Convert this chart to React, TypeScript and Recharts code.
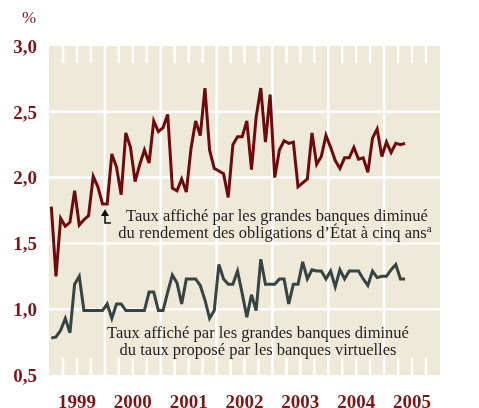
import {
  LineChart,
  Line,
  CartesianGrid,
  XAxis,
  YAxis,
  ReferenceLine,
  ReferenceArea,
} from "recharts";

// monthly values, Jan 1999 .. May 2005
const bigBanksMinusBonds = [
  1.78, 1.25, 1.69, 1.63, 1.66, 1.9, 1.64, 1.68, 1.71, 2.01, 1.93, 1.8,
  1.8, 2.18, 2.08, 1.87, 2.34, 2.23, 1.97, 2.1, 2.21, 2.11, 2.43, 2.35,
  2.38, 2.48, 1.92, 1.9, 1.99, 1.89, 2.22, 2.43, 2.32, 2.68, 2.21, 2.07,
  2.05, 2.03, 1.85, 2.25, 2.31, 2.31, 2.43, 2.06, 2.46, 2.68, 2.27, 2.63,
  2.0, 2.21, 2.28, 2.26, 2.27, 1.93, 1.96, 1.99, 2.34, 2.1, 2.16, 2.32,
  2.23, 2.13, 2.07, 2.15, 2.15, 2.23, 2.14, 2.15, 2.04, 2.3, 2.37, 2.16,
  2.27, 2.19, 2.26, 2.25, 2.26,
];

const bigBanksMinusVirtual = [
  0.78, 0.79, 0.84, 0.93, 0.82, 1.19, 1.25, 0.99, 0.99, 0.99, 0.99, 0.99,
  1.04, 0.93, 1.04, 1.04, 0.99, 0.99, 0.99, 0.99, 0.99, 1.13, 1.13, 0.99,
  0.99, 1.13, 1.26, 1.2, 1.04, 1.23, 1.23, 1.23, 1.18, 1.07, 0.93, 0.99,
  1.34, 1.23, 1.19, 1.19, 1.29, 1.12, 0.94, 1.11, 0.99, 1.38, 1.19, 1.19,
  1.19, 1.23, 1.23, 1.04, 1.19, 1.19, 1.36, 1.23, 1.3, 1.29, 1.29, 1.23,
  1.29, 1.17, 1.3, 1.23, 1.29, 1.29, 1.29, 1.23, 1.18, 1.29, 1.24, 1.25,
  1.25, 1.3, 1.34, 1.23, 1.23,
];

const years = [1999, 2000, 2001, 2002, 2003, 2004, 2005];
const yTicks = [0.5, 1.0, 1.5, 2.0, 2.5, 3.0];
const gridValues = [1.0, 1.5, 2.0, 2.5];
const yMin = 0.5;
const yMax = 3.0;

const data = bigBanksMinusBonds.map((v, i) => ({
  m: i + 0.5,
  bonds: v,
  virtual: bigBanksMinusVirtual[i],
}));

const nMonths = years.length * 12;
const yearTicks = years.map((_, i) => i * 12 + 6);
const yearLines = years.slice(1).map((_, i) => (i + 1) * 12);
const quarters: number[] = [];
for (let q = 3; q < nMonths; q += 3) {
  if (q % 12 !== 0) quarters.push(q);
}
const tickLen = 0.13; // in axis units

const RED = "#6e0a0c";
const GREEN = "#364543";
const AXIS = "#7a1818";
const FONT = "'Liberation Serif', 'Times New Roman', serif";

const fmt = (v: number) => v.toFixed(1).replace(".", ",");

// annotations sit in an svg laid over the chart so the grid never covers them
const Notes = () => (
  <svg
    width={479}
    height={408}
    style={{ position: "absolute", left: 0, top: 0, pointerEvents: "none" }}
  >
    <text x={29} y={23} textAnchor="middle" fill={AXIS} fontSize={17} fontFamily={FONT}>
      %
    </text>
    <g fill="#1e1e1e" fontFamily={FONT} fontSize={16.5} textAnchor="middle">
      <text x={277} y={221}>Taux affiché par les grandes banques diminué</text>
      <text x={275} y={238}>
        du rendement des obligations d’État à cinq ans
        <tspan fontSize={11} dy={-6}>a</tspan>
      </text>
      <text x={258} y={338}>Taux affiché par les grandes banques diminué</text>
      <text x={258} y={355}>du taux proposé par les banques virtuelles</text>
    </g>
    <path d="M105 209 L101 216 L109 216 Z" fill="#111" />
    <path d="M105 214 V223 H111" stroke="#111" strokeWidth={1.6} fill="none" />
  </svg>
);

const App = () => (
  <div style={{ position: "fixed", left: 0, top: 0, width: 479, height: 408 }}>
    <LineChart
      width={479}
      height={408}
      data={data}
      margin={{ top: 46, right: 0, bottom: 0, left: 0 }}
    >
      <CartesianGrid fill="#eee9d9" stroke="none" />
      <XAxis
        dataKey="m"
        type="number"
        domain={[0, nMonths]}
        ticks={yearTicks}
        tickFormatter={(m: number) => String(years[Math.floor(m / 12)])}
        axisLine={false}
        tickLine={false}
        tickSize={0}
        tickMargin={20}
        height={33}
        interval={0}
        tick={{ fill: AXIS, fontSize: 19, fontFamily: FONT, fontWeight: "bold" }}
      />
      <YAxis
        domain={[yMin, yMax]}
        ticks={yTicks}
        tickFormatter={fmt}
        axisLine={false}
        tickLine={false}
        tickSize={0}
        tickMargin={12}
        width={49}
        tick={{ fill: AXIS, fontSize: 19, fontFamily: FONT, fontWeight: "bold" }}
      />
      <YAxis
        yAxisId="right"
        orientation="right"
        domain={[yMin, yMax]}
        ticks={yTicks}
        tickFormatter={fmt}
        axisLine={false}
        tickLine={false}
        tickSize={0}
        tickMargin={12}
        width={39}
        tick={{ fill: AXIS, fontSize: 19, fontFamily: FONT, fontWeight: "bold", textAnchor: "start" }}
      />
      {gridValues.map((v) => (
        <ReferenceLine key={"h" + v} y={v} stroke="#ffffff" strokeWidth={2.5} />
      ))}
      {yearLines.map((x) => (
        <ReferenceLine key={"v" + x} x={x} stroke="#ffffff" strokeWidth={2.5} />
      ))}
      {quarters.map((q) => (
        <ReferenceArea
          key={"t" + q}
          x1={q - 0.27}
          x2={q + 0.27}
          y1={yMax - tickLen}
          y2={yMax}
          fill="#ffffff"
          fillOpacity={1}
          stroke="none"
        />
      ))}
      {quarters.map((q) => (
        <ReferenceArea
          key={"b" + q}
          x1={q - 0.27}
          x2={q + 0.27}
          y1={yMin}
          y2={yMin + tickLen}
          fill="#ffffff"
          fillOpacity={1}
          stroke="none"
        />
      ))}
      <Line
        dataKey="bonds"
        stroke={RED}
        strokeWidth={3}
        dot={false}
        type="linear"
        isAnimationActive={false}
      />
      <Line
        dataKey="virtual"
        stroke={GREEN}
        strokeWidth={3}
        dot={false}
        type="linear"
        isAnimationActive={false}
      />
    </LineChart>
    <Notes />
  </div>
);

export default App;
